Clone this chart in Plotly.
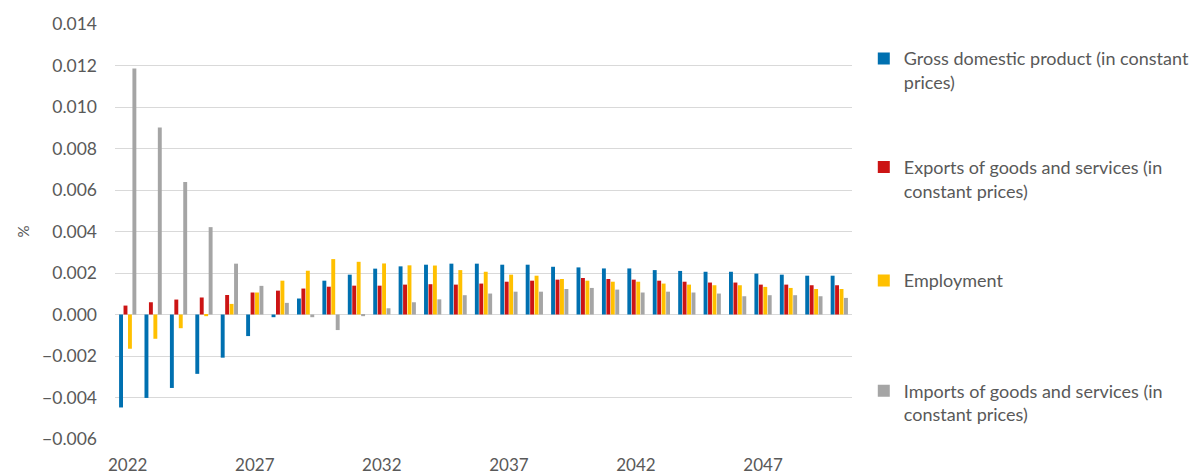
import plotly.graph_objects as go

years = list(range(2022, 2051))

gdp = [-0.00448, -0.00402, -0.00354, -0.00286, -0.00208, -0.00104, -0.00013, 0.00077,
       0.00163, 0.00192, 0.00221, 0.00232, 0.00240, 0.00245, 0.00245, 0.00240, 0.00240,
       0.00230, 0.00227, 0.00222, 0.00222, 0.00214, 0.00210, 0.00206, 0.00206, 0.00197,
       0.00192, 0.00187, 0.00187]
exports = [0.00043, 0.00059, 0.00072, 0.00082, 0.00094, 0.00106, 0.00115, 0.00125,
           0.00134, 0.00139, 0.00139, 0.00144, 0.00146, 0.00144, 0.00149, 0.00158, 0.00163,
           0.00168, 0.00176, 0.00171, 0.00168, 0.00163, 0.00158, 0.00154, 0.00154, 0.00144,
           0.00144, 0.00141, 0.00141]
employment = [-0.00165, -0.00117, -0.00066, -0.00008, 0.00051, 0.00106, 0.00163, 0.00211,
              0.00267, 0.00254, 0.00246, 0.00237, 0.00236, 0.00214, 0.00206, 0.00192, 0.00187,
              0.00171, 0.00163, 0.00158, 0.00158, 0.00149, 0.00144, 0.00141, 0.00141, 0.00133,
              0.00128, 0.00123, 0.00123]
imports = [0.01186, 0.00901, 0.00638, 0.00421, 0.00245, 0.00138, 0.00056, -0.00013,
           -0.00075, -0.00008, 0.00030, 0.00059, 0.00073, 0.00093, 0.00101, 0.00110, 0.00110,
           0.00123, 0.00128, 0.00120, 0.00106, 0.00110, 0.00106, 0.00101, 0.00088, 0.00093,
           0.00093, 0.00088, 0.00080]

names = ["Gross domestic product (in constant<br>prices)",
         "Exports of goods and services (in<br>constant prices)",
         "Employment",
         "Imports of goods and services (in<br>constant prices)"]
colors = ["#0070B0", "#CC1414", "#FFC000", "#A5A5A5"]
series = [gdp, exports, employment, imports]
legend_ids = ["legend", "legend2", "legend3", "legend4"]
legend_y = [0.961, 0.699, 0.426, 0.16]

tick_years = [2022, 2027, 2032, 2037, 2042, 2047]

FONT = "Lato, 'Open Sans', sans-serif"
TXT = "#595959"

fig = go.Figure()
for nm, col, vals, lg in zip(names, colors, series, legend_ids):
    fig.add_trace(go.Bar(x=years, y=vals, name=nm, marker_color=col,
                         marker_line_width=0, legend=lg, showlegend=True))

layout = dict(
    width=1200, height=473,
    margin=dict(l=107, r=356, t=16, b=42, autoexpand=False),
    showlegend=True,
    paper_bgcolor="white", plot_bgcolor="white",
    barmode="group", bargap=0.3, bargroupgap=0.12,
    font=dict(family=FONT, size=17, color=TXT),
    xaxis=dict(range=[2021.5, 2050.5], tickvals=tick_years,
               ticktext=[str(y) for y in tick_years],
               ticks="outside", ticklen=11, tickcolor="rgba(0,0,0,0)",
               showgrid=False, showline=False, zeroline=False, automargin=False,
               tickfont=dict(size=17, color=TXT)),
    yaxis=dict(range=[-0.006, 0.014], dtick=0.002, tickformat=".3f",
               showgrid=True, gridcolor="#D9D9D9", gridwidth=1,
               zeroline=True, zerolinecolor="#D9D9D9", zerolinewidth=1,
               showline=False, ticklabelstandoff=17, automargin=False,
               tickfont=dict(size=17.5, color=TXT),
               title=dict(text="%", font=dict(size=15, color=TXT), standoff=8)),
)
for lg, ly in zip(legend_ids, legend_y):
    layout[lg] = dict(x=1.016, y=ly, xanchor="left", yanchor="top",
                      font=dict(family=FONT, size=18, color=TXT),
                      bgcolor="rgba(0,0,0,0)", valign="top", itemclick=False,
                      visible=True)
fig.update_layout(**layout)

fig.write_html("out.html")
